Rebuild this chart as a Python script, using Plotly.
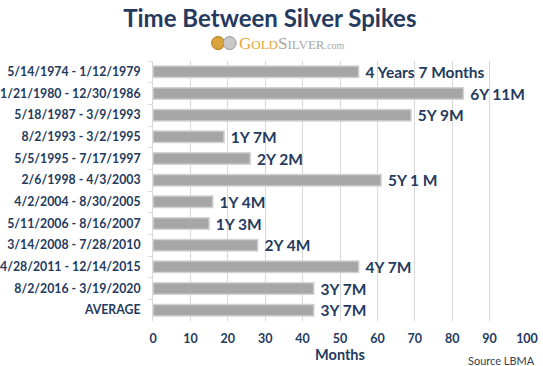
import plotly.graph_objects as go

categories = ["5/14/1974 - 1/12/1979", "1/21/1980 - 12/30/1986", "5/18/1987 - 3/9/1993",
              "8/2/1993 - 3/2/1995", "5/5/1995 - 7/17/1997", "2/6/1998 - 4/3/2003",
              "4/2/2004 - 8/30/2005", "5/11/2006 - 8/16/2007", "3/14/2008 - 7/28/2010",
              "4/28/2011 - 12/14/2015", "8/2/2016 - 3/19/2020", "AVERAGE"]
months = [55, 83, 69, 19, 26, 61, 16, 15, 28, 55, 43, 43]
labels = ["4 Years 7 Months", "6Y 11M", "5Y 9M", "1Y 7M", "2Y 2M", "5Y 1 M",
          "1Y 4M", "1Y 3M", "2Y 4M", "4Y 7M", "3Y 7M", "3Y 7M"]
x_ticks = [0, 10, 20, 30, 40, 50, 60, 70, 80, 90, 100]

NAVY = "#243A5E"
FONT = "Lato"

fig = go.Figure(go.Bar(
    x=months, y=categories, orientation="h",
    text=labels, texttemplate="\u00a0%{text}",
    textposition="outside", cliponaxis=False, constraintext="none",
    textfont=dict(family=FONT, size=15.5, color=NAVY, weight="bold"),
    marker=dict(color="#A6A6A6", line=dict(color="#D2D2D2", width=1.5)),
    width=0.53,
))

fig.update_layout(
    width=543, height=366,
    margin=dict(l=153, r=16, t=61, b=45, autoexpand=False),
    paper_bgcolor="white", plot_bgcolor="white",
    showlegend=False,
    title=dict(text="<b>Time Between Silver Spikes</b>", x=0.497, xanchor="center",
               y=0.95, yanchor="middle",
               font=dict(family=FONT, size=24, color=NAVY)),
    xaxis=dict(range=[0, 100], tickvals=x_ticks, showgrid=True, gridcolor="#D9D9D9",
               gridwidth=1, zeroline=False, showline=False, automargin=False,
               ticks="", ticklabelstandoff=8,
               tickfont=dict(family=FONT, size=12.5, color=NAVY, weight="bold"),
               title=dict(text="<b>Months</b>", standoff=5,
                          font=dict(family=FONT, size=14.5, color=NAVY))),
    yaxis=dict(autorange="reversed", showgrid=False, showline=True, linecolor="#D9D9D9",
               automargin=False,
               ticks="outside", tickson="boundaries", ticklen=4, tickcolor="#D9D9D9",
               ticklabelstandoff=9,
               tickfont=dict(family=FONT, size=12.3, color=NAVY, weight="bold")),
    shapes=[
        dict(type="circle", xref="paper", yref="paper", xsizemode="pixel", ysizemode="pixel",
             xanchor=0.174, yanchor=1.069, x0=-6.5, x1=6.5, y0=-6.5, y1=6.5,
             fillcolor="#D9A43A", line=dict(color="#B07A1E", width=1)),
        dict(type="circle", xref="paper", yref="paper", xsizemode="pixel", ysizemode="pixel",
             xanchor=0.205, yanchor=1.069, x0=-6.5, x1=6.5, y0=-6.5, y1=6.5,
             fillcolor="#C8C8C8", line=dict(color="#9A9A9A", width=1)),
    ],
    annotations=[
        dict(text="<span style='color:#E3A63A'><span style='font-size:17px'>G</span>OLD</span>"
                  "<span style='color:#A8A8A8'><span style='font-size:17px'>S</span>ILVER"
                  "<span style='font-size:10px'>.com</span></span>",
             xref="paper", yref="paper", x=0.224, y=1.069, xanchor="left", yanchor="middle",
             showarrow=False, font=dict(family="Liberation Serif", size=13)),
        dict(text="Source LBMA", xref="paper", yref="paper", x=1.028, y=-0.152,
             xanchor="right", yanchor="middle", showarrow=False,
             font=dict(family=FONT, size=11, color="#333F50")),
    ],
)

fig.write_html("out.html", config={"displayModeBar": False},
               post_script="document.body.style.margin='0';")
